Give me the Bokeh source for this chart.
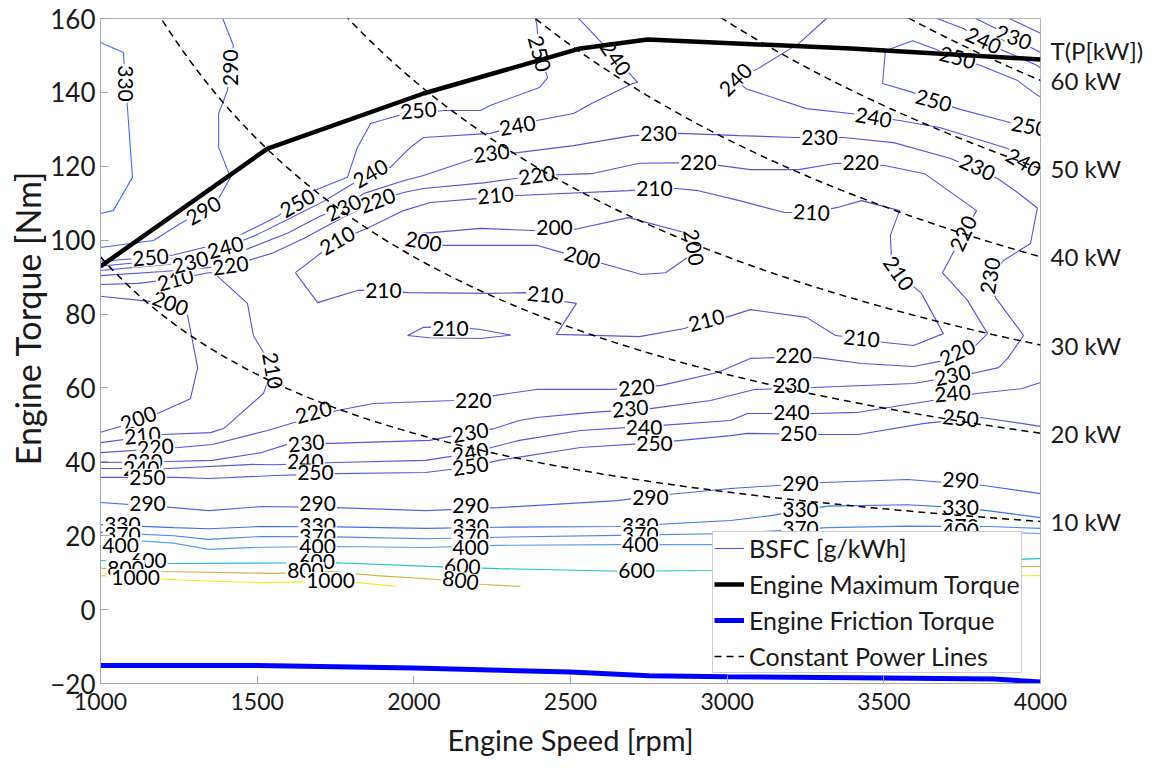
import numpy as np
from bokeh.plotting import figure
from bokeh.models import (ColumnDataSource, Range1d, LinearAxis, Legend, LegendItem,
                          FixedTicker, Title)
from bokeh.core.properties import value
from bokeh.embed import file_html
from bokeh.resources import INLINE

FONT = "Lato"

# ---------------- data ----------------
x_ticks = [1000, 1500, 2000, 2500, 3000, 3500, 4000]
y_ticks = [-20, 0, 20, 40, 60, 80, 100, 120, 140, 160]

# engine maximum torque curve
max_speed = [1000, 1533, 2031, 2532, 2746, 3394, 4000]
max_torque = [92.9, 124.8, 139.7, 151.9, 154.3, 151.9, 148.9]

# engine friction torque curve
fric_speed = [1000, 1500, 2000, 2500, 2750, 3000, 3500, 3850, 4000]
fric_torque = [-15.1, -15.1, -15.8, -16.9, -17.9, -18.2, -18.5, -18.8, -19.6]

# constant power lines [kW]
power_kw = [10, 20, 30, 40, 50, 60]
power_header = "T(P[kW])"
power_header_torque = 151.3

# BSFC contour lines [g/kWh]: each level is a list of polylines (speed, torque)
bsfc_200_x = [[1000, 1150, 1223, 1278, 1310, 1287, 1191, 1121, 1000],
              [1985, 2213, 2379, 2519, 2685, 2864, 2880, 2873, 2803, 2727, 2602, 2471, 2392, 2213, 2050, 1985, 1985]]
bsfc_200_y = [[84.8, 83.5, 82.9, 79.6, 65.5, 57.1, 53.4, 51.0, 48.0],
              [101.5, 103.2, 102.6, 103.0, 106.1, 102.1, 97.0, 95.3, 91.2, 90.7, 93.7, 96.7, 98.6, 98.6, 98.6, 99.8, 101.5]]

bsfc_210_x = [[1000, 1120, 1239, 1345, 1361, 1469, 1488, 1520, 1549, 1527, 1520, 1393, 1351, 1198, 1000],
              [1622, 1693, 1820, 1903, 1980, 2245, 2353, 2420, 2478, 2519, 2455, 2720, 2864, 2934, 3004, 3074,
               3253, 3346, 3429, 3502, 3595, 3690, 3620, 3547, 3524, 3521, 3550, 3429, 3349, 3269, 3183, 3039,
               2908, 2838, 2768, 2685, 2331, 2261, 2213, 2053, 1967, 1852, 1756, 1702, 1622],
              [1980, 2031, 2117, 2213, 2309, 2213, 2050, 1980]]
bsfc_210_y = [[88.0, 88.3, 89.5, 91.2, 91.2, 82.9, 74.2, 69.6, 64.7, 60.1, 58.5, 49.0, 47.9, 47.4, 45.2],
              [91.2, 83.1, 86.4, 86.4, 85.8, 85.6, 85.8, 85.0, 83.4, 82.9, 74.5, 73.9, 76.1, 78.3, 79.3, 81.2,
               79.1, 74.2, 73.4, 72.3, 71.5, 74.7, 85.6, 91.0, 95.8, 101.3, 108.0, 110.7, 108.8, 107.5, 107.5, 110.7,
               113.4, 114.0, 114.0, 113.4, 112.1, 112.1, 111.3, 110.2, 108.0, 103.2, 99.9, 96.4, 91.2],
              [74.2, 76.4, 76.6, 75.8, 74.3, 73.4, 73.6, 74.2]]

bsfc_220_x = [[1000, 1200, 1415, 1550, 1650, 1780, 1884, 1967, 2031, 2222, 2392, 2567, 2720, 2908, 3074, 3228,
               3349, 3502, 3630, 3796, 3754, 3687, 3767, 3831, 3793, 3690, 3595, 3429, 3288, 3148, 3074, 2969,
               2790, 2637, 2392, 2261, 2127, 1871, 1756, 1616, 1533, 1357, 1249, 1000],
              [3900, 4000]]
bsfc_220_y = [[90.4, 91.5, 93.1, 96.5, 100.5, 106.5, 110.7, 112.9, 114.0, 115.5, 117.5, 118.0, 120.8, 121.0, 119.1,
               119.1, 120.8, 120.2, 118.0, 108.0, 101.8, 91.2, 83.7, 74.7, 71.5, 67.4, 65.8, 66.6, 68.2, 68.2, 68.0,
               64.2, 60.7, 59.6, 59.6, 58.0, 56.6, 55.8, 53.9, 50.6, 48.5, 44.7, 43.9, 42.5],
              [160.0, 156.0]]

bsfc_230_x = [[1000, 1287, 1450, 1600, 1700, 1776, 1839, 1967, 2031, 2222, 2331, 2510, 2698, 2851, 3039, 3218,
               3371, 3531, 3713, 3863, 3927, 3990, 3968, 3882, 3840, 3856, 3946, 3895, 3866, 3786, 3595, 3276,
               3087, 2947, 2755, 2567, 2392, 2337, 2257, 2181, 2050, 1737, 1606, 1514, 1357, 1217, 1000],
              [3793, 3914, 3968, 4000]]
bsfc_230_y = [[91.8, 94.0, 97.0, 102.0, 106.5, 108.8, 112.6, 116.1, 117.5, 122.9, 123.7, 125.6, 128.3, 128.9, 128.3,
               127.8, 127.8, 126.4, 122.1, 116.7, 112.9, 108.7, 99.1, 94.5, 90.4, 84.5, 74.2, 68.0, 65.5, 64.0,
               61.2, 60.1, 59.6, 56.6, 54.4, 53.4, 52.0, 51.2, 49.0, 47.9, 45.8, 45.0, 45.0, 42.5, 40.4, 40.1, 39.8],
              [160.0, 154.9, 152.2, 150.8]]

bsfc_240_x = [[1000, 1200, 1399, 1500, 1606, 1712, 1800, 1862, 1925, 1989, 2031, 2245, 2331, 2392, 2510, 2567,
               2698, 2714, 2644, 2602, 2532, 2525],
              [1000, 1217, 1488, 1559, 1750, 2037, 2181, 2257, 2337, 2532, 2778, 3011, 3065, 3276, 3419, 3595,
               3796, 3939, 4000],
              [3317, 3228, 3100, 3027, 3060, 3253, 3394, 3550, 3678, 3895, 4000],
              [3670, 3754, 3818, 3882, 3990, 4000]]
bsfc_240_y = [[93.0, 94.5, 98.0, 101.5, 106.0, 110.5, 115.0, 118.0, 119.7, 125.1, 127.8, 128.9, 131.0, 132.4, 134.3,
               137.0, 142.4, 142.7, 149.2, 153.2, 159.5, 160.0],
              [38.2, 38.2, 39.3, 39.2, 39.8, 40.4, 42.3, 44.1, 45.8, 48.5, 49.8, 51.2, 53.1, 53.1, 53.4, 55.8,
               58.5, 59.8, 61.5],
              [160.0, 153.2, 146.5, 143.4, 141.0, 135.6, 134.3, 132.4, 130.5, 124.8, 118.3],
              [160.0, 157.3, 154.0, 151.3, 147.3, 146.5]]

bsfc_250_x = [[1000, 1160, 1233, 1400, 1520, 1565, 1629, 1680, 1788, 1820, 1862, 1948, 2095, 2213, 2245, 2401,
               2427, 2401, 2392, 2388],
              [1000, 1239, 1345, 1559, 1750, 2037, 2181, 2270, 2532, 2778, 3011, 3065, 3301, 3419, 3630, 3809,
               3939, 4000],
              [4000, 3990, 3927, 3809, 3735, 3659, 3592, 3505, 3496, 3592, 3659, 3735, 3914, 4000]]
bsfc_250_y = [[94.3, 95.3, 96.0, 99.5, 104.5, 106.5, 110.0, 113.4, 117.0, 125.1, 131.6, 133.7, 135.1, 135.1, 136.5,
               141.3, 144.0, 150.5, 158.6, 160.0],
              [35.8, 35.8, 35.5, 36.3, 36.8, 37.1, 38.6, 40.4, 43.9, 45.2, 47.1, 47.7, 47.4, 47.4, 50.4, 52.0,
               50.4, 49.6],
              [138.8, 139.2, 143.2, 147.3, 149.4, 151.9, 154.0, 151.3, 142.4, 140.0, 137.8, 135.6, 131.6, 130.0]]

bsfc_290_x = [[1000, 1236, 1345, 1514, 1750, 2037, 2270, 2650, 2778, 3011, 3308, 3576, 3818, 4000],
              [1390, 1424, 1415, 1405, 1377, 1377, 1415, 1377, 1329, 1255, 1169, 1000]]
bsfc_290_y = [[29.0, 27.6, 26.8, 27.9, 27.6, 26.8, 27.6, 29.5, 30.9, 32.8, 34.4, 35.2, 33.6, 31.4],
              [160.0, 152.7, 146.7, 140.5, 134.3, 125.1, 117.0, 111.3, 108.0, 104.5, 99.9, 98.0]]

bsfc_330_x = [[1000, 1233, 1345, 1514, 1750, 2037, 2270, 2650, 3011, 3145, 3320, 3576, 3740, 3830, 4000],
              [1000, 1073, 1080, 1086, 1102, 1041, 1000]]
bsfc_330_y = [[23.0, 22.2, 21.9, 22.5, 22.4, 22.0, 22.3, 22.5, 24.1, 25.5, 28.0, 28.4, 27.6, 26.8, 24.9],
              [153.5, 150.8, 142.0, 135.9, 117.0, 108.0, 107.2]]

bsfc_370_x = [[1000, 1233, 1345, 1514, 1750, 2037, 2270, 2650, 3011, 3320, 3576, 3830, 4000]]
bsfc_370_y = [[20.9, 20.0, 19.0, 19.8, 19.7, 19.2, 19.6, 20.1, 20.6, 22.2, 22.6, 22.5, 22.0]]

bsfc_400_x = [[1000, 1233, 1345, 1514, 1750, 2037, 2270, 2650, 3011, 3400, 3745, 4000]]
bsfc_400_y = [[19.3, 18.0, 16.3, 16.9, 17.1, 16.8, 17.4, 17.6, 17.6, 19.5, 21.3, 20.6]]

bsfc_600_x = [[1000, 1230, 1590, 1750, 2050, 2270, 2660, 2950, 3500, 4000]]
bsfc_600_y = [[13.3, 12.5, 12.6, 12.7, 11.7, 11.1, 10.4, 10.6, 12.5, 13.8]]

bsfc_800_x = [[1000, 1190, 1555, 1740, 1880, 2090, 2220, 2340], [3100, 4000]]
bsfc_800_y = [[11.2, 10.3, 9.8, 10.3, 9.2, 8.1, 6.8, 6.3], [11.0, 11.7]]

bsfc_1000_x = [[1000, 1250, 1514, 1770, 1945], [3050, 4000]]
bsfc_1000_y = [[9.2, 8.0, 7.3, 7.7, 6.3], [9.0, 9.2]]

# contour labels: (speed, torque, angle in degrees)
lab_200 = [(1223, 82.9, -20), (1121, 51.7, 20), (2031, 99.6, -10), (2449, 103.4, 0), (2538, 95.3, -15),
           (2893, 98.0, -80)]
lab_210 = [(1239, 89.3, 15), (1549, 64.7, -80), (1134, 47.1, 5), (1903, 86.4, 0), (2420, 85.2, -5),
           (2934, 78.3, 15), (3429, 73.4, -5), (3547, 91.0, -55), (3269, 107.5, -3), (2768, 114.0, 0),
           (2261, 112.1, 5), (1756, 99.9, 30), (2117, 76.0, 0)]
lab_220 = [(1415, 93.1, 8), (1884, 110.7, 20), (2392, 117.5, 8), (2908, 121.0, 0), (3426, 121.0, 0),
           (3754, 101.8, 65), (3735, 69.6, 25), (3212, 68.8, 0), (2711, 60.1, 5), (2190, 56.6, 0),
           (1680, 53.4, 15), (1176, 43.9, 5)]
lab_230 = [(1287, 94.0, 15), (1776, 108.8, 25), (2248, 123.5, 8), (2781, 128.9, 0), (3295, 127.8, 0),
           (3799, 119.7, -25), (3840, 90.4, 80), (3719, 63.4, 12), (3205, 60.7, 0), (2691, 54.4, 5),
           (2181, 47.9, 10), (1657, 45.0, 5), (1140, 40.1, 0), (3914, 154.9, -20)]
lab_240 = [(1399, 98.0, 15), (1862, 118.0, 30), (2331, 131.0, 10), (2644, 149.2, -55), (1130, 38.3, 0),
           (1654, 40.2, 0), (2181, 42.5, 10), (2735, 49.2, 0), (3205, 53.3, 0), (3719, 58.5, 5),
           (3027, 143.4, 45), (3467, 133.2, -10), (3946, 121.0, -30), (3818, 154.0, -25)]
lab_250 = [(1160, 95.3, 5), (1629, 110.0, 30), (2015, 135.1, 5), (2401, 150.5, -75), (1150, 35.8, 0),
           (1686, 37.0, 0), (2181, 38.8, 8), (2768, 45.0, 0), (3228, 47.6, 0), (3745, 51.8, -5),
           (3735, 149.4, -15), (3659, 137.8, -15), (3965, 130.8, -10)]
lab_290 = [(1415, 146.7, 90), (1329, 108.0, 30), (1150, 28.7, 0), (1693, 28.7, 0), (2181, 28.2, 0),
           (2755, 30.3, 0), (3234, 34.1, 0), (3745, 35.0, -3)]
lab_330 = [(1080, 142.4, -90), (1070, 23.0, 0), (1693, 22.8, 0), (2181, 22.5, 0), (2723, 22.8, 0),
           (3234, 27.0, 0), (3745, 27.6, 0)]
lab_370 = [(1070, 20.3, 0), (1693, 19.9, 0), (2181, 19.7, 0), (2723, 20.3, 0), (3234, 22.0, 0), (3745, 22.6, 0)]
lab_400 = [(1064, 17.3, 0), (1693, 17.0, 0), (2181, 16.9, 0), (2723, 17.5, 0), (3745, 21.5, 0)]
lab_600 = [(1153, 13.3, 0), (1690, 13.0, 0), (2155, 11.7, -3), (2711, 10.6, 0)]
lab_800 = [(1080, 11.1, 0), (1654, 10.6, 0), (2149, 7.9, -8)]
lab_1000 = [(1112, 8.7, 0), (1734, 7.9, 0)]

# ---------------- figure ----------------
p = figure(width=1153, height=769, x_range=Range1d(1000, 4000), y_range=Range1d(-20, 160),
           output_backend="svg", toolbar_location=None,
           min_border_left=100, min_border_right=113, min_border_top=18, min_border_bottom=86)
p.xgrid.visible = False
p.ygrid.visible = False
p.outline_line_color = "#b4b4b4"
p.background_fill_color = "white"
p.border_fill_color = "white"

AX = "#a8a8a8"
TXT = "#1a1a1a"
for ax in (p.xaxis[0], p.yaxis[0]):
    ax.axis_line_color = AX
    ax.major_tick_line_color = AX
    ax.major_tick_in = 8
    ax.major_tick_out = 0
    ax.minor_tick_line_color = None
    ax.major_label_text_font = FONT
    ax.major_label_text_color = TXT
p.xaxis[0].major_label_text_font_size = "23px"
p.yaxis[0].major_label_text_font_size = "26px"
p.xaxis[0].ticker = FixedTicker(ticks=x_ticks)
p.yaxis[0].ticker = FixedTicker(ticks=y_ticks)
p.xaxis[0].major_label_standoff = 9
p.yaxis[0].major_label_standoff = 5
p.xaxis[0].axis_label = "Engine Speed [rpm]"
p.xaxis[0].axis_label_text_font = FONT
p.xaxis[0].axis_label_text_font_size = "29px"
p.xaxis[0].axis_label_text_font_style = "normal"
p.xaxis[0].axis_label_text_color = TXT
p.xaxis[0].axis_label_standoff = 9

# right axis carrying the constant-power labels
pw_ticks = [pk * 60000.0 / (2 * np.pi * 4000) for pk in power_kw] + [power_header_torque]
pw_texts = ["%d kW" % pk for pk in power_kw] + [power_header]
right_ax = LinearAxis(ticker=FixedTicker(ticks=pw_ticks),
                      major_label_overrides={t: s for t, s in zip(pw_ticks, pw_texts)},
                      axis_line_color=None, major_tick_line_color=None, minor_tick_line_color=None,
                      major_label_text_font=FONT, major_label_text_font_size="24px",
                      major_label_text_color=TXT, major_label_standoff=4)
p.add_layout(right_ax, "right")

# y-axis title
p.add_layout(Title(text="Engine Torque [Nm]", text_font=FONT, text_font_size="34px",
                   text_font_style="normal", text_color=TXT, align="right", offset=152,
                   standoff=0), "left")

levels = [
    (bsfc_200_x, bsfc_200_y, "#5a52d8"),
    (bsfc_210_x, bsfc_210_y, "#5a52d8"),
    (bsfc_220_x, bsfc_220_y, "#5a52da"),
    (bsfc_230_x, bsfc_230_y, "#5852dc"),
    (bsfc_240_x, bsfc_240_y, "#5654de"),
    (bsfc_250_x, bsfc_250_y, "#5458e0"),
    (bsfc_290_x, bsfc_290_y, "#4a64ea"),
    (bsfc_330_x, bsfc_330_y, "#4070f0"),
    (bsfc_370_x, bsfc_370_y, "#4a86f2"),
    (bsfc_400_x, bsfc_400_y, "#5a9cf2"),
    (bsfc_600_x, bsfc_600_y, "#22c0c4"),
    (bsfc_800_x, bsfc_800_y, "#c8b848"),
    (bsfc_1000_x, bsfc_1000_y, "#f2ea2a"),
]
contour_renderers = []
for xs, ys, col in levels:
    contour_renderers.append(p.multi_line(xs=xs, ys=ys, line_color=col, line_width=1.1))

# contour labels
lab_x, lab_y, lab_t, lab_a = [], [], [], []
for lvl, labs in ((200, lab_200), (210, lab_210), (220, lab_220), (230, lab_230), (240, lab_240),
                  (250, lab_250), (290, lab_290), (330, lab_330), (370, lab_370), (400, lab_400),
                  (600, lab_600), (800, lab_800), (1000, lab_1000)):
    for (lx, ly, la) in labs:
        lab_x.append(lx)
        lab_y.append(ly)
        lab_t.append(str(lvl))
        lab_a.append(la)
lab_src = ColumnDataSource(dict(x=lab_x, y=lab_y, text=lab_t, angle=lab_a))
p.text(x="x", y="y", text="text", angle="angle", angle_units="deg", source=lab_src,
       text_font=value(FONT), text_font_size="21px", text_color="black",
       text_align="center", text_baseline="middle",
       background_fill_color="white", padding=1)

# constant power lines
speed = np.linspace(1000, 4000, 151)
pw_xs = [speed for _ in power_kw]
pw_ys = [pk * 60000.0 / (2 * np.pi * speed) for pk in power_kw]
r_pw = p.multi_line(xs=pw_xs, ys=pw_ys, line_color="black", line_width=1.5, line_dash="7 5")

r_max = p.line(max_speed, max_torque, line_color="black", line_width=4.5)
r_fric = p.line(fric_speed, fric_torque, line_color="#0000ff", line_width=5)

legend = Legend(items=[LegendItem(label="BSFC [g/kWh]", renderers=[contour_renderers[0]]),
                       LegendItem(label="Engine Maximum Torque", renderers=[r_max]),
                       LegendItem(label="Engine Friction Torque", renderers=[r_fric]),
                       LegendItem(label="Constant Power Lines", renderers=[r_pw])],
                location=(612, 10), label_text_font=FONT, label_text_font_size="25px",
                label_text_color=TXT, glyph_width=30, glyph_height=28, label_height=28,
                spacing=6, padding=1, margin=0, label_standoff=5,
                border_line_color="#a0a0a0", background_fill_alpha=1.0)
p.add_layout(legend)

open("out.html", "w").write(file_html(p, INLINE))
